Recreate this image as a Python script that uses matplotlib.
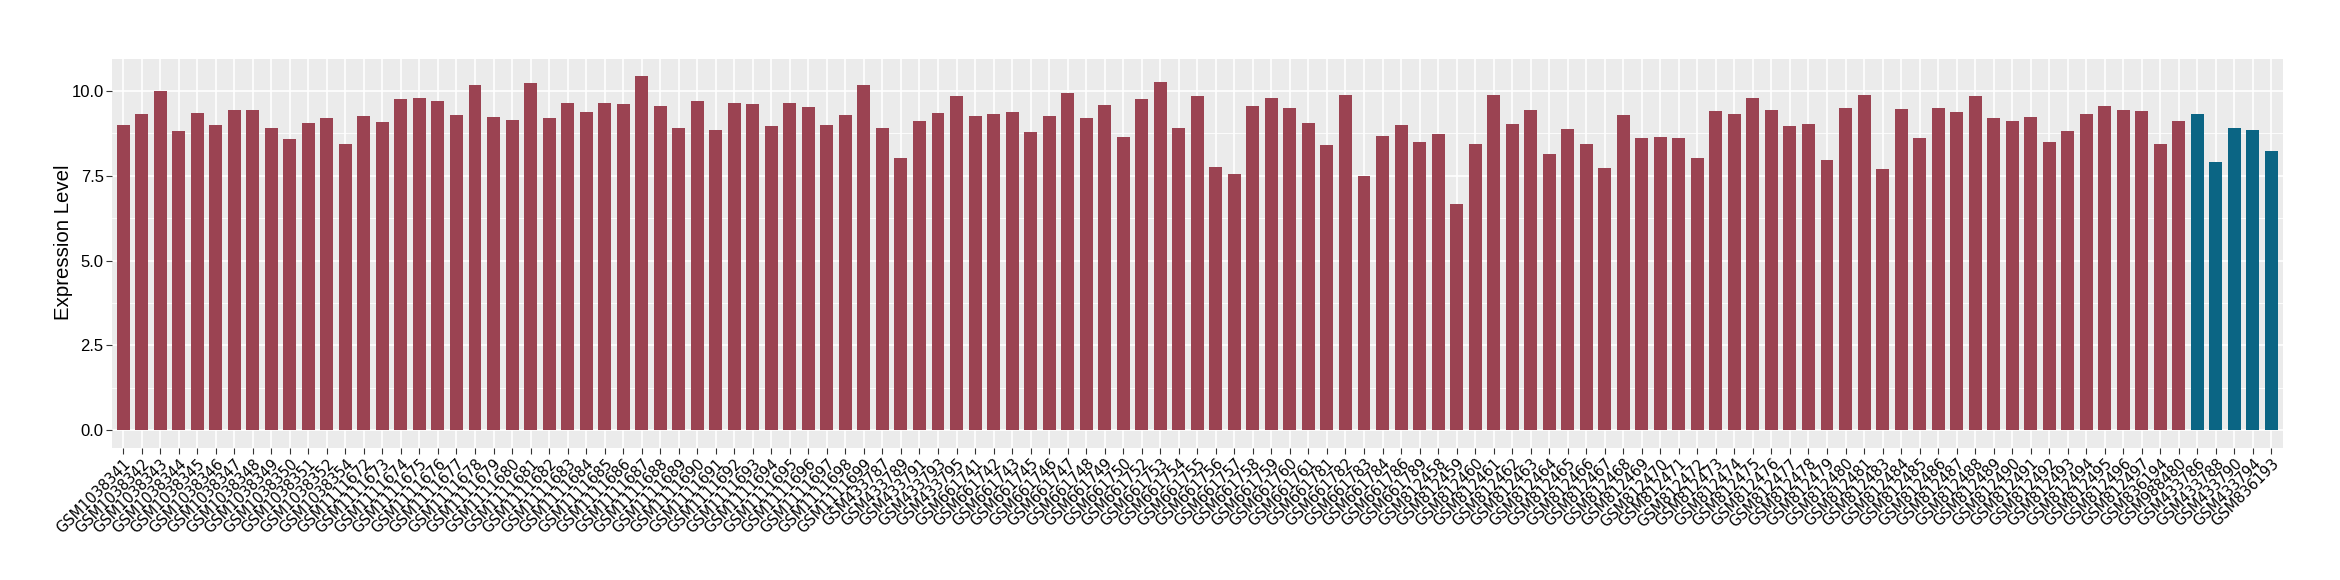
import matplotlib.pyplot as plt
import numpy as np

# amostras (ordem do eixo x)
samples = (
    ["GSM10383%d" % i for i in [41, 42, 43, 44, 45, 46, 47, 48, 49, 50, 51, 52, 54]]
    + ["GSM11116%d" % i for i in range(72, 100)]
    + ["GSM4337%d" % i for i in [87, 89, 91, 93, 95]]
    + ["GSM6617%d" % i for i in [41, 42, 43, 45, 46, 47, 48, 49, 50, 52, 53, 54,
                                  55, 56, 57, 58, 59, 60, 61, 81, 82, 83, 84, 86, 89]]
    + ["GSM8124%d" % i for i in list(range(58, 82)) + list(range(83, 98))]
    + ["GSM836194", "GSM988480"]
    + ["GSM433786", "GSM433788", "GSM433790", "GSM433794", "GSM836193"]
)

# niveis de expressao
levels = [
    9.01, 9.31, 10.01, 8.83, 9.35, 9.01, 9.44, 9.44, 8.92, 8.58, 9.06, 9.19, 8.45,
    9.25, 9.10, 9.76, 9.80, 9.71, 9.28, 10.17, 9.22, 9.15, 10.23, 9.19, 9.65, 9.37,
    9.65, 9.62, 10.44, 9.56, 8.92, 9.71, 8.85, 9.65, 9.62, 8.97, 9.65, 9.53, 9.01,
    9.28, 10.17,
    8.92, 8.02, 9.13, 9.35, 9.86,
    9.25, 9.31, 9.37, 8.79, 9.25, 9.95, 9.19, 9.58, 8.63, 9.76, 10.26, 8.92,
    9.86, 7.75, 7.54, 9.56, 9.80, 9.49, 9.06, 8.40, 9.89, 7.48, 8.67, 9.01, 8.49,
    8.74, 6.68, 8.45, 9.89, 9.04, 9.44, 8.15, 8.88, 8.45, 7.72, 9.28, 8.61, 8.63,
    8.61, 8.02, 9.40, 9.31, 9.80, 9.44, 8.97, 9.04, 7.97, 9.49, 9.89,
    7.70, 9.46, 8.61, 9.49, 9.37, 9.86, 9.19, 9.13, 9.22, 8.49, 8.83, 9.31, 9.56,
    9.44, 9.40,
    8.43, 9.13,
    9.31, 7.91, 8.92, 8.85, 8.22,
]

# grupo de cada amostra
groups = ["tumor"] * 112 + ["normal"] * 5
group_colors = {"tumor": "#9B4352", "normal": "#0B6584"}

x = np.arange(len(samples))
bar_colors = [group_colors[g] for g in groups]

fig = plt.figure(figsize=(23.4, 5.8), dpi=100)
ax = fig.add_axes([112 / 2340, 1 - 447.7 / 580, (2282.7 - 112.1) / 2340, (447.7 - 58.5) / 580])

ax.bar(x, levels, width=0.7, color=bar_colors, zorder=2)

ax.set_xlim(-0.6, len(samples) - 1 + 0.6)
ax.set_ylim(-0.522, 10.96)

#Estilo parecido com ggplot
ax.set_facecolor("#EBEBEB")
for s in ax.spines.values():
    s.set_visible(False)
ax.set_yticks([0, 2.5, 5, 7.5, 10])
ax.set_yticklabels(["0.0", "2.5", "5.0", "7.5", "10.0"], fontfamily="Liberation Sans", fontsize=12, color="black")
ax.set_yticks([1.25, 3.75, 6.25, 8.75], minor=True)
ax.grid(which="major", color="white", lw=1.2, zorder=0)
ax.grid(which="minor", axis="y", color="white", lw=0.6, zorder=0)
ax.set_axisbelow(True)
ax.tick_params(axis="both", which="major", length=4, width=0.8, color="#333333", pad=2)
ax.tick_params(axis="y", which="minor", length=0)

ax.set_xticks(x)
ax.set_xticklabels(samples, rotation=45, ha="right", va="top", rotation_mode="anchor",
                   fontfamily="DejaVu Sans", fontsize=10.5, color="black")

ax.set_ylabel("Expression Level", fontfamily="Liberation Sans", fontsize=14.7)
ax.yaxis.set_label_coords(-0.018, 0.527)

fig.savefig("out.png", dpi=100)
